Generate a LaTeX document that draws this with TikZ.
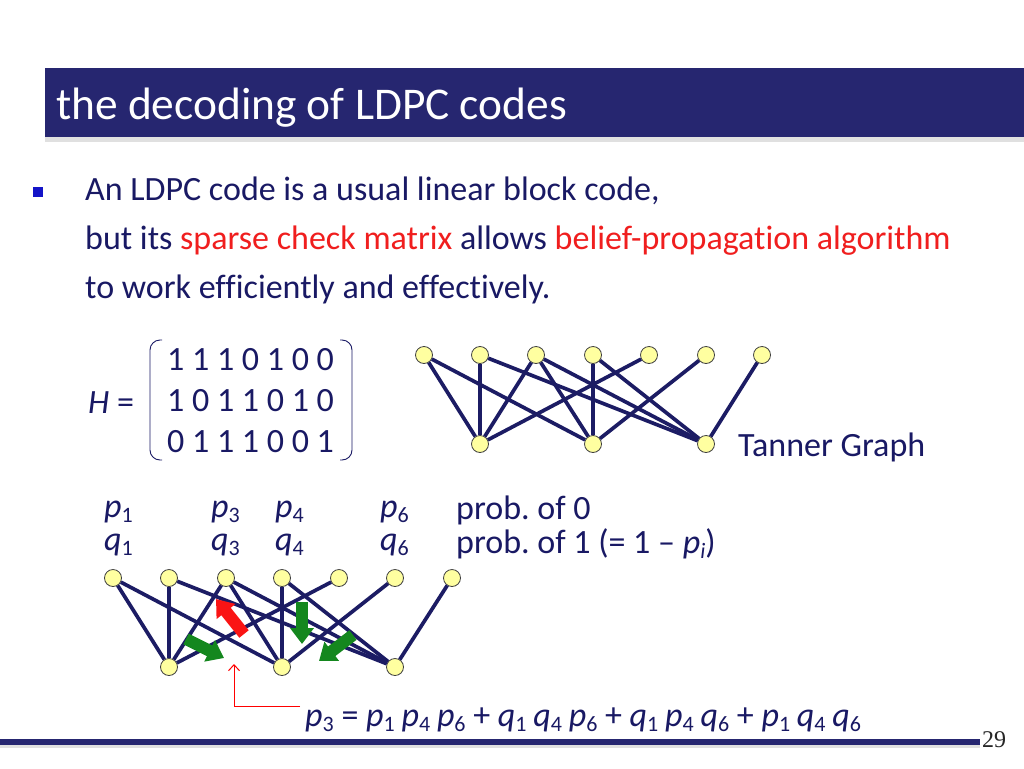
\documentclass[tikz,border=0pt]{standalone}
\usepackage{fontspec}
\setmainfont{Carlito}[Ligatures=NoCommon]
\newfontfamily\pagefont{Liberation Serif}
\usetikzlibrary{arrows.meta}
\definecolor{navy}{RGB}{38,38,112}
\definecolor{edgec}{RGB}{28,28,100}
\definecolor{txt}{RGB}{25,25,100}
\definecolor{redtxt}{RGB}{240,30,30}
\definecolor{nodefill}{RGB}{255,255,160}
\definecolor{garrow}{RGB}{20,135,30}
\definecolor{rarrow}{RGB}{250,20,20}
\definecolor{bullet}{RGB}{20,20,200}
\newcommand\sbs[1]{\raisebox{-0.17em}{\fontsize{22}{24}\selectfont #1}}
\newcommand\vp[2]{\textit{#1}\sbs{#2}}
\newcommand\fsp{\hspace{0.2em}}
\tikzset{
  vnode/.style={circle,draw=black!75,fill=nodefill,inner sep=0pt,minimum size=17pt,line width=0.8pt},
  edge/.style={draw=edgec,line width=3.7pt},
  bodytext/.style={anchor=base west,inner sep=0pt,text=txt,font=\fontsize{34}{40}\selectfont},
  blockarrow/.style={line width=12pt,-{Triangle[width=23pt,length=16pt]}},
}
\begin{document}
\frenchspacing
\begin{tikzpicture}[x=1pt,y=-1pt]
\useasboundingbox (0,0) rectangle (1024,768);
\fill[white] (0,0) rectangle (1024,768);
% header
\fill[black!12] (45,137) rectangle (1024,142);
\fill[navy] (45,68) rectangle (1024,137);
\node[anchor=base west,inner sep=0pt,text=white,font=\fontsize{45.4}{50}\selectfont] (title) at (56,119) {the decoding of LDPC codes};
% bullet text
\fill[bullet] (33,187) rectangle (43,197);
\node[bodytext] (l1) at (85,200) {An LDPC code is a usual linear block code,};
\node[bodytext] (l2) at (85,249) {but its \textcolor{redtxt}{sparse check matrix} allows \textcolor{redtxt}{belief-propagation algorithm}};
\node[bodytext] (l3) at (85,298) {to work efficiently and effectively.};
% matrix
\node[bodytext] (H) at (88,413) {\textit{H} =};
\node[bodytext] (r1) at (167,370) {1 1 1 0 1 0 0};
\node[bodytext] (r2) at (167,411) {1 0 1 1 0 1 0};
\node[bodytext] (r3) at (167,452) {0 1 1 1 0 0 1};
\draw[txt,line width=0.9pt,rounded corners=10pt] (162,340) -- (150,340) -- (150,460) -- (162,460);
\draw[txt,line width=0.9pt,rounded corners=10pt] (340,340) -- (352,340) -- (352,460) -- (340,460);
% Tanner graph (top)
\foreach \i/\x in {1/424,2/480,3/536,4/593,5/649,6/706,7/762}
  \node[vnode] (t\i) at (\x,355) {};
\foreach \i/\x in {1/480,2/593,3/706}
  \node[vnode] (tc\i) at (\x,444) {};
\foreach \c/\vs in {1/{1,2,3,5},2/{1,3,4,6},3/{2,3,4,7}}
  \foreach \v in \vs
    \draw[edge] (tc\c) -- (t\v);
\node[bodytext] (tanner) at (738,456) {Tanner Graph};
% labels
\node[bodytext] (p1) at (104,517) {\vp{p}{1}};
\node[bodytext] (q1) at (104,550) {\vp{q}{1}};
\node[bodytext] (p3) at (211,517) {\vp{p}{3}};
\node[bodytext] (q3) at (211,550) {\vp{q}{3}};
\node[bodytext] (p4) at (275,517) {\vp{p}{4}};
\node[bodytext] (q4) at (275,550) {\vp{q}{4}};
\node[bodytext] (p6) at (380,517) {\vp{p}{6}};
\node[bodytext] (q6) at (380,550) {\vp{q}{6}};
\node[bodytext] (prob0) at (456,519) {prob. of 0};
\node[bodytext] (prob1) at (456,553) {prob. of 1 (= 1 -- \vp{p}{\textit{i}})};
% lower graph
\foreach \i/\x in {1/113,2/169,3/226,4/282,5/339,6/395,7/452}
  \node[vnode] (b\i) at (\x,578) {};
\foreach \i/\x in {1/169,2/282,3/395}
  \node[vnode] (bc\i) at (\x,667) {};
\foreach \c/\vs in {1/{1,2,3,5},2/{1,3,4,6},3/{2,3,4,7}}
  \foreach \v in \vs
    \draw[edge] (bc\c) -- (b\v);
% block arrows
\coordinate (ra1) at (244,634); \coordinate (ra2) at (216,599);
\draw[blockarrow,rarrow] (ra1) -- (ra2);
\coordinate (ga1) at (186,639); \coordinate (ga2) at (224,658);
\draw[blockarrow,garrow] (ga1) -- (ga2);
\coordinate (gb1) at (302,602); \coordinate (gb2) at (302,644);
\draw[blockarrow,garrow] (gb1) -- (gb2);
\coordinate (gc1) at (353,635); \coordinate (gc2) at (319,661);
\draw[blockarrow,garrow] (gc1) -- (gc2);
% formula
\node[bodytext] (formula) at (305,726) {\vp{p}{3} = \vp{p}{1}\fsp\vp{p}{4}\fsp\vp{p}{6} + \vp{q}{1}\fsp\vp{q}{4}\fsp\vp{p}{6} + \vp{q}{1}\fsp\vp{p}{4}\fsp\vp{q}{6} + \vp{p}{1}\fsp\vp{q}{4}\fsp\vp{q}{6}};
\coordinate (ptr) at (234,664);
\draw[red,line width=1pt,-{Straight Barb[length=6pt,width=11pt]}] (formula.west |- 0,706) ++(-5,0) -| (ptr);
% footer
\fill[navy] (0,739) rectangle (980,745);
\fill[black!12] (0,745) rectangle (980,748);
\node[anchor=base west,inner sep=0pt,text=black!85,font=\pagefont\fontsize{24}{26}\selectfont] (pg) at (982,747) {29};
\end{tikzpicture}
\end{document}
